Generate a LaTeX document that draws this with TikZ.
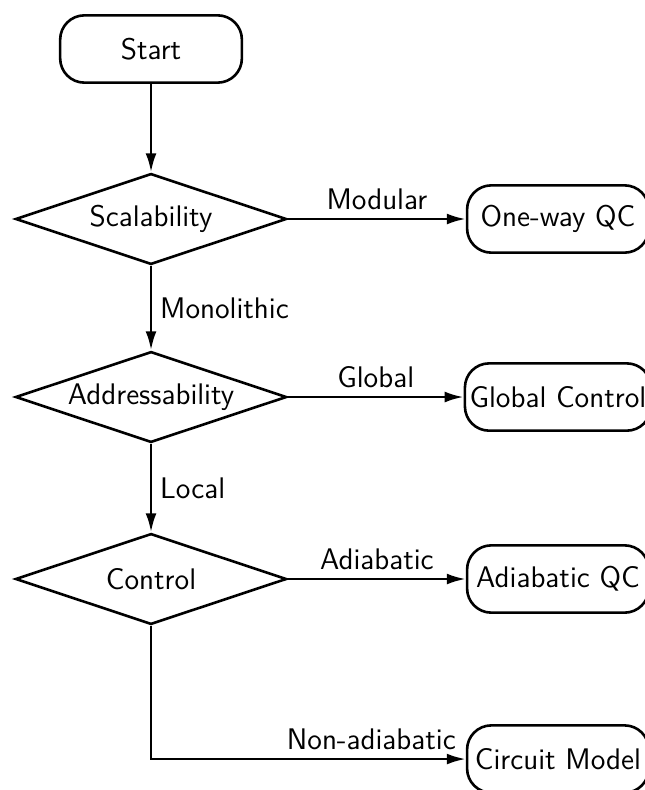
\documentclass[tikz,border=0pt]{standalone}
\usetikzlibrary{shapes.geometric,arrows.meta}
\begin{document}
\begin{tikzpicture}[font=\sffamily\fontsize{12.6}{15}\selectfont, >={Latex[length=8pt,width=4.6pt]}, line width=1.1pt,
	term/.style={draw, rounded corners=0.36cm, inner xsep=2pt, minimum width=2.7cm, minimum height=1cm},
	decision/.style={draw, diamond, aspect=3, inner sep=0pt, minimum width=4.03cm, minimum height=1.35cm}]
	\useasboundingbox (0,0) rectangle (9.569,-11.738);
	\node[term] (start) at (2.244,-0.728) {Start};
	\node[decision] (scal) at (2.244,-3.254) {Scalability};
	\node[decision] (addr) at (2.244,-5.899) {Addressability};
	\node[decision] (ctrl) at (2.244,-8.603) {Control};
	\node[term] (oneway) at (8.29,-3.254) {One-way QC};
	\node[term] (global) at (8.29,-5.899) {Global Control};
	\node[term] (adiab) at (8.29,-8.603) {Adiabatic QC};
	\node[term] (circ) at (8.29,-11.278) {Circuit Model};

	\draw[->] (start) -- (scal);
	\draw[->] (scal) -- node[above]{Modular} (oneway);
	\draw[->] (scal) -- node[right]{Monolithic} (addr);
	\draw[->] (addr) -- node[above]{Global} (global);
	\draw[->] (addr) -- node[right]{Local} (ctrl);
	\draw[->] (ctrl) -- node[above]{Adiabatic} (adiab);
	\draw[->] (ctrl) |- node[pos=0.85, above]{Non-adiabatic} (circ);
\end{tikzpicture}
\end{document}
